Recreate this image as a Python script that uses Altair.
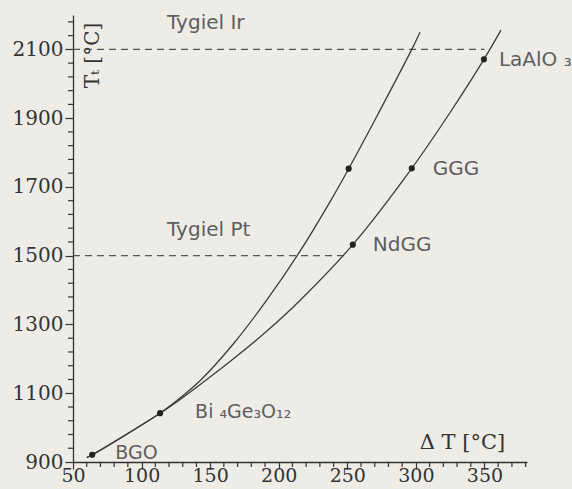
import altair as alt
import pandas as pd

# Growth temperature Tt (°C) against ΔT (°C): samples along the two curves
left_dt = [60, 64, 113.5, 123, 143, 167, 192, 216, 238, 251, 270, 297, 303]
left_tt = [913, 921, 1042, 1070, 1138, 1244, 1375, 1516, 1661, 1753, 1894, 2100, 2150]
right_dt = [60, 64, 113.5, 123, 143, 167, 192, 216, 254, 297, 326, 349.6, 362]
right_tt = [913, 921, 1042, 1067, 1126, 1200, 1283, 1372, 1532, 1754, 1923, 2071, 2156]

# Crystals marked on the curves
crystal_names = ["BGO", "Bi ₄Ge₃O₁₂", "", "NdGG", "GGG", "LaAlO ₃"]
crystal_dt = [64, 113.5, 251, 254, 297, 349.6]
crystal_tt = [921, 1042, 1753, 1532, 1754, 2071]

# Crucible temperature limits
crucible_names = ["Tygiel Ir", "Tygiel Pt"]
crucible_tt = [2100, 1500]
crucible_end_dt = [350, 250]

# Axis ranges and ticks
x_domain = [50, 381]
y_domain = [900, 2200]
x_major = list(range(50, 381, 50))
y_major = list(range(900, 2200, 200))
x_minor = [v for v in range(50, 381, 10) if v not in x_major]
y_minor = [v for v in range(900, 2200, 40) if v not in y_major]

W, H = 454, 447

curves = pd.concat(
    [
        pd.DataFrame({"dt": left_dt, "tt": left_tt, "curve": "left"}),
        pd.DataFrame({"dt": right_dt, "tt": right_tt, "curve": "right"}),
    ],
    ignore_index=True,
)
crystals = pd.DataFrame({"name": crystal_names, "dt": crystal_dt, "tt": crystal_tt})
crucibles = pd.DataFrame(
    {
        "name": crucible_names,
        "tt": crucible_tt,
        "dt": [x_domain[0]] * len(crucible_tt),
        "dt2": crucible_end_dt,
    }
)

INK = "#333333"
LABEL_INK = "#5e5e5e"
SERIF = "DejaVu Serif"
SANS = "DejaVu Sans"

X = alt.X(
    "dt:Q",
    scale=alt.Scale(domain=x_domain, nice=False, zero=False),
    axis=alt.Axis(
        values=x_major,
        format="d",
        tickSize=7,
        grid=False,
        domainColor=INK,
        domainWidth=1.3,
        tickColor=INK,
        tickWidth=1.2,
        labelFont=SERIF,
        labelFontSize=19,
        labelColor=INK,
        labelPadding=-3,
        labelFlush=False,
        labelOverlap=False,
        title="Δ T  [°C]",
        titleFont=SERIF,
        titleFontSize=21,
        titleFontWeight="normal",
        titleColor=INK,
        titleX=389,
        titleY=-20,
        titleAlign="center",
        titleBaseline="middle",
    ),
)

Y = alt.Y(
    "tt:Q",
    scale=alt.Scale(domain=y_domain, nice=False, zero=False),
    axis=alt.Axis(
        values=y_major,
        format="d",
        tickSize=8,
        grid=False,
        domainColor=INK,
        domainWidth=1.3,
        tickColor=INK,
        tickWidth=1.2,
        labelFont=SERIF,
        labelFontSize=20,
        labelColor=INK,
        labelPadding=2,
        labelFlush=False,
        labelOverlap=False,
        title="Tₜ [°C]",
        titleFont=SERIF,
        titleFontSize=20,
        titleFontWeight="normal",
        titleColor=INK,
        titleAngle=270,
        titleX=19,
        titleY=40,
        titleAlign="center",
        titleBaseline="middle",
    ),
)

# short minor ticks between the labelled ones
x_minor_ticks = (
    alt.Chart(pd.DataFrame({"dt": x_minor}))
    .mark_rule(color=INK, strokeWidth=1.2)
    .encode(x=X, y=alt.value(H), y2=alt.value(H + 5))
)
y_minor_ticks = (
    alt.Chart(pd.DataFrame({"tt": y_minor}))
    .mark_rule(color=INK, strokeWidth=1.2)
    .encode(y=Y, x=alt.value(-5), x2=alt.value(0))
)

lines = (
    alt.Chart(curves)
    .mark_line(color="#3c3c3c", strokeWidth=1.3, interpolate="catmull-rom")
    .encode(x=X, y=Y, detail="curve:N")
)

limits = (
    alt.Chart(crucibles)
    .mark_rule(color="#555555", strokeWidth=1.3, strokeDash=[7, 5])
    .encode(x=X, x2="dt2:Q", y=Y)
)

limit_labels = (
    alt.Chart(crucibles)
    .mark_text(
        align="left", baseline="alphabetic", dx=94, dy=-20,
        font=SANS, fontSize=20, color=LABEL_INK,
    )
    .encode(x=X, y=Y, text="name:N")
)

dots = (
    alt.Chart(crystals)
    .mark_circle(size=38, color="#222222", opacity=1)
    .encode(x=X, y=Y)
)

# label offsets (dx, dy in pixels) and font size for each marked crystal
label_offsets = {
    "BGO": (23, 4, 19),
    "Bi ₄Ge₃O₁₂": (35, 5, 19),
    "NdGG": (20, 6, 20),
    "GGG": (21, 7, 20),
    "LaAlO ₃": (15, 7, 20),
}
crystal_labels = [
    alt.Chart(crystals)
    .transform_filter(alt.datum.name == name)
    .mark_text(
        align="left", baseline="alphabetic", dx=dx, dy=dy,
        font=SANS, fontSize=fs, color=LABEL_INK,
    )
    .encode(x=X, y=Y, text="name:N")
    for name, (dx, dy, fs) in label_offsets.items()
]

chart = (
    alt.layer(
        limits, lines, dots, x_minor_ticks, y_minor_ticks, limit_labels, *crystal_labels
    )
    .properties(
        width=W,
        height=H,
        background="#edece7",
        autosize=alt.AutoSizeParams(type="none"),
        padding={"left": 73, "top": 15, "right": 45, "bottom": 27},
    )
    .configure_view(stroke=None)
)

chart.save("out.html", embed_options={"renderer": "svg", "actions": False})
